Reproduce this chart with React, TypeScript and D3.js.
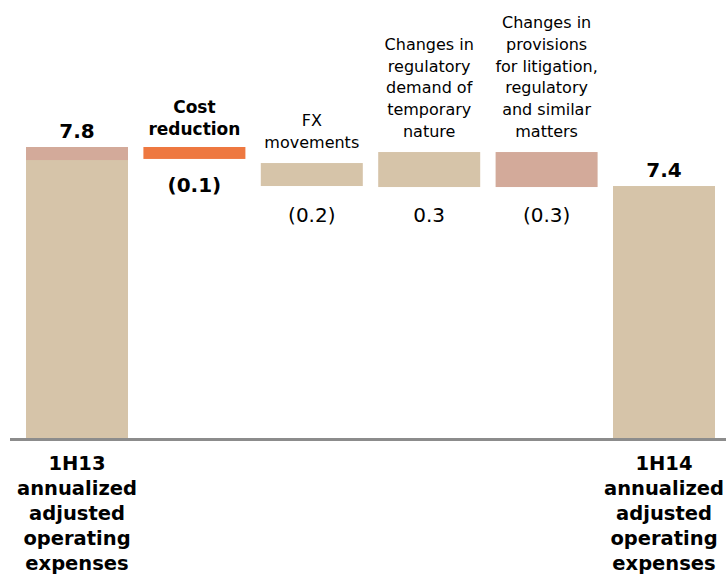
import React from "react";
import * as d3 from "d3";

// Category headers (lines) above bars (middle steps) and below axis (totals)
const categories = ["start", "cost", "fx", "reg", "lit", "end"];
const topLabels: string[][] = [
  [],
  ["Cost", "reduction"],
  ["FX", "movements"],
  ["Changes in", "regulatory", "demand of", "temporary", "nature"],
  ["Changes in", "provisions", "for litigation,", "regulatory", "and similar", "matters"],
  [],
];
const bottomLabels: string[][] = [
  ["1H13", "annualized", "adjusted", "operating", "expenses"],
  [], [], [], [],
  ["1H14", "annualized", "adjusted", "operating", "expenses"],
];
// Displayed values
const valueLabels = ["7.8", "(0.1)", "(0.2)", "0.3", "(0.3)", "7.4"];
// Drawn extents of each bar (in chart units)
const barLow = [0, 7.48, 6.754, 6.727, 6.727, 0];
const barHigh = [7.8, 7.8, 7.37, 7.665, 7.665, 6.754];
const barKind = ["total", "highlight", "plain", "plain", "pink", "total"];
// Pink cap on first bar
const capLow = 7.45;
const capHigh = 7.8;

const COLORS: Record<string, string> = {
  total: "#d6c4a9",
  plain: "#d6c4a9",
  pink: "#d3aa9a",
  highlight: "#ee7840",
};

export default function App() {
  const W = 726, H = 575;
  const x = d3.scaleBand<string>().domain(categories).range([26, 715]).paddingInner(0.1312).paddingOuter(0);
  const y = d3.scaleLinear().domain([0, 7.8]).range([438, 147]);
  const font = "'DejaVu Sans', sans-serif";
  const lh = 21.8;

  return (
    <svg width={W} height={H} style={{ position: "absolute", left: 0, top: 0 }} fontFamily={font}>
      <rect width={W} height={H} fill="#fff" />
      {categories.map((c, i) => {
        const x0 = x(c)!;
        const bw = x.bandwidth();
        const cx = x0 + bw / 2;
        const top = y(barHigh[i]);
        const bot = y(barLow[i]);
        const isTotal = barKind[i] === "total";
        const bold = i <= 1 || i === 5;
        let valueY: number;
        if (isTotal) valueY = top - 9;
        else if (i === 1) valueY = 192;
        else valueY = 222;
        return (
          <g key={c}>
            <rect x={x0} y={top} width={bw} height={bot - top} fill={COLORS[barKind[i]]} />
            {i === 0 && (
              <rect x={x0} y={y(capHigh)} width={bw} height={y(capLow) - y(capHigh)} fill={COLORS.pink} />
            )}
            <text
              x={cx}
              y={valueY}
              textAnchor="middle"
              fontSize={20}
              fontWeight={bold ? 700 : 400}
              fill="#000"
            >
              {valueLabels[i]}
            </text>
            {topLabels[i].map((t, k) => {
              const n = topLabels[i].length;
              const baseY = i === 1 ? 135 : i === 2 ? 148 : 137;
              const step = i === 1 ? 22 : lh;
              return (
                <text
                  key={k}
                  x={cx}
                  y={baseY - (n - 1 - k) * step}
                  textAnchor="middle"
                  fontSize={i === 1 ? 17 : 16}
                  fontWeight={i === 1 ? 700 : 400}
                  fill="#000"
                >
                  {t}
                </text>
              );
            })}
            {bottomLabels[i].map((t, k) => (
              <text
                key={k}
                x={cx}
                y={470 + k * 25}
                textAnchor="middle"
                fontSize={19.5}
                fontWeight={700}
                fill="#000"
              >
                {t}
              </text>
            ))}
          </g>
        );
      })}
      <line x1={10} x2={726} y1={y(0) + 1.5} y2={y(0) + 1.5} stroke="#8c8c8c" strokeWidth={3} />
    </svg>
  );
}
